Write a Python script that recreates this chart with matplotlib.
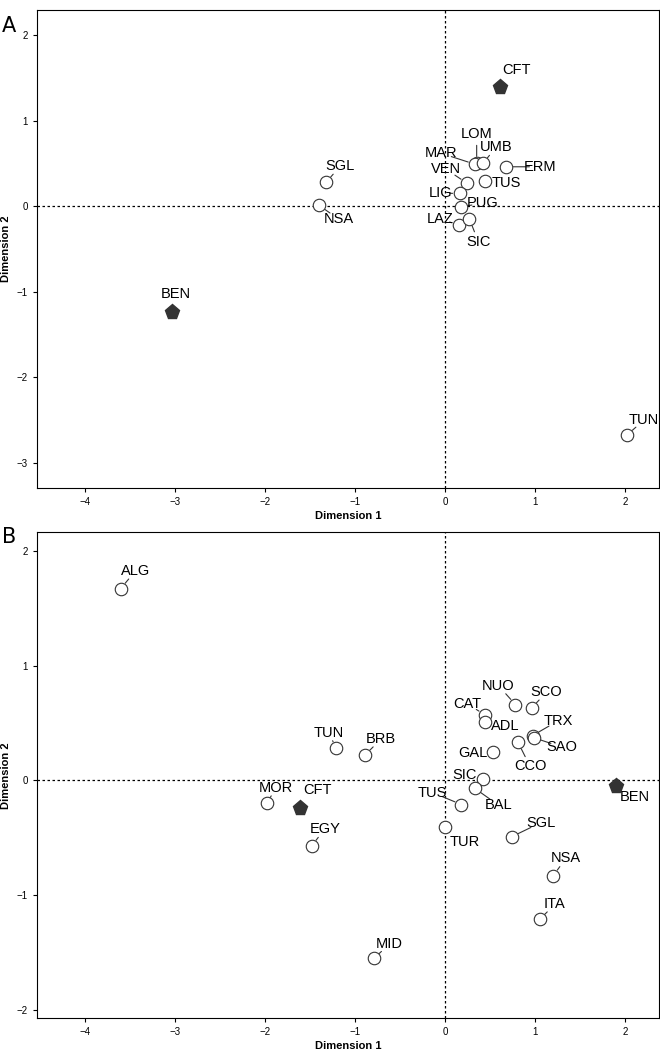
import matplotlib
matplotlib.use("Agg")
import matplotlib.pyplot as plt

plt.rcParams['font.family'] = ['Liberation Sans', 'DejaVu Sans']

# Panel A
a_labels = ["CFT","LOM","MAR","UMB","ERM","VEN","TUS","LIG","PUG","LAZ","SIC","SGL","NSA","BEN","TUN"]
a_x = [0.61,0.35,0.33,0.42,0.68,0.24,0.44,0.16,0.18,0.15,0.27,-1.32,-1.40,-3.03,2.02]
a_y = [1.39,0.50,0.49,0.50,0.46,0.27,0.29,0.15,-0.01,-0.22,-0.15,0.28,0.01,-1.24,-2.67]
a_ref = ["CFT","BEN"]

# Panel B
b_labels = ["ALG","NUO","SCO","CAT","ADL","TRX","SAO","CCO","GAL","SIC","BAL","TUS","TUR","SGL","NSA","ITA","MID","BEN","TUN","BRB","MOR","CFT","EGY"]
b_x = [-3.60,0.78,0.96,0.44,0.44,0.97,0.99,0.81,0.53,0.42,0.33,0.18,0.00,0.74,1.20,1.05,-0.79,1.90,-1.21,-0.89,-1.98,-1.61,-1.48]
b_y = [1.67,0.66,0.63,0.57,0.51,0.39,0.37,0.33,0.25,0.01,-0.07,-0.21,-0.41,-0.49,-0.83,-1.21,-1.55,-0.05,0.28,0.22,-0.20,-0.24,-0.57]
b_ref = ["BEN","CFT"]

# label offsets in pixels (layout)
a_off = {"CFT":(16,17,False),"LOM":(0,29,True),"MAR":(-34,11,True),"UMB":(13,16,True),
         "ERM":(34,0,True),"VEN":(-21,14,True),"TUS":(22,-2,False),"LIG":(-19,0,True),
         "PUG":(21,4,True),"LAZ":(-18,6,True),"SIC":(9,-23,True),"SGL":(14,16,True),
         "NSA":(20,-14,True),"BEN":(4,18,False),"TUN":(17,15,True)}
b_off = {"ALG":(15,18,True),"NUO":(-17,19,True),"SCO":(15,16,True),"CAT":(-17,11,True),
         "ADL":(20,-4,False),"TRX":(26,15,True),"SAO":(27,-9,True),"CCO":(12,-24,True),
         "GAL":(-20,-1,False),"SIC":(-18,4,False),"BAL":(24,-17,True),"TUS":(-29,12,True),
         "TUR":(20,-15,False),"SGL":(29,14,True),"NSA":(13,18,True),"ITA":(15,15,True),
         "MID":(15,14,True),"BEN":(18,-11,False),"TUN":(-7,15,True),"BRB":(16,16,True),
         "MOR":(9,15,True),"CFT":(17,18,False),"EGY":(13,17,True)}

fig = plt.figure(figsize=(6.6,10.54), dpi=100)
axA = fig.add_axes([0.056,0.537,0.942,0.4535])
axB = fig.add_axes([0.056,0.034,0.942,0.461])

def draw(ax, labels, xs, ys, refs, offs, xlim, ylim, yticks):
    for l,x,y in zip(labels,xs,ys):
        if l in refs:
            ax.plot(x,y,marker='p',ms=11,color='#333333',zorder=3)
        else:
            ax.plot(x,y,marker='o',ms=9,mfc='white',mec='#333333',mew=0.8,zorder=3)
        dx,dy,lead = offs[l]
        ax.annotate(l,(x,y),xytext=(dx,dy),textcoords='offset pixels',ha='center',va='center',
                    fontsize=10.5)
        if lead:
            d = (dx*dx+dy*dy)**0.5
            f = max(0.5, (d-11)/d)
            ax.annotate('',(x,y),xytext=(dx*f,dy*f),textcoords='offset pixels',
                        arrowprops=dict(arrowstyle='-',color='#333333',lw=0.8,shrinkA=0,shrinkB=5),
                        zorder=2)
    ax.axhline(0,ls=(0,(2,2)),color='black',lw=0.9,zorder=1)
    ax.axvline(0,ls=(0,(2,2)),color='black',lw=0.9,zorder=1)
    ax.set_xlim(*xlim); ax.set_ylim(*ylim)
    ax.set_xticks([-4,-3,-2,-1,0,1,2]); ax.set_yticks(yticks)
    ax.tick_params(labelsize=7,length=3)
    ax.set_xlabel("Dimension 1",fontsize=8,fontweight='bold',labelpad=3)
    ax.set_ylabel("Dimension 2",fontsize=8,fontweight='bold',labelpad=4)

draw(axA,a_labels,a_x,a_y,a_ref,a_off,(-4.53,2.37),(-3.29,2.29),[-3,-2,-1,0,1,2])
draw(axB,b_labels,b_x,b_y,b_ref,b_off,(-4.53,2.37),(-2.07,2.16),[-2,-1,0,1,2])
fig.text(0.003,0.985,"A",fontsize=15,va='top',family='DejaVu Sans')
fig.text(0.003,0.50,"B",fontsize=15,va='top',family='DejaVu Sans')
fig.savefig("out.png",dpi=100)
